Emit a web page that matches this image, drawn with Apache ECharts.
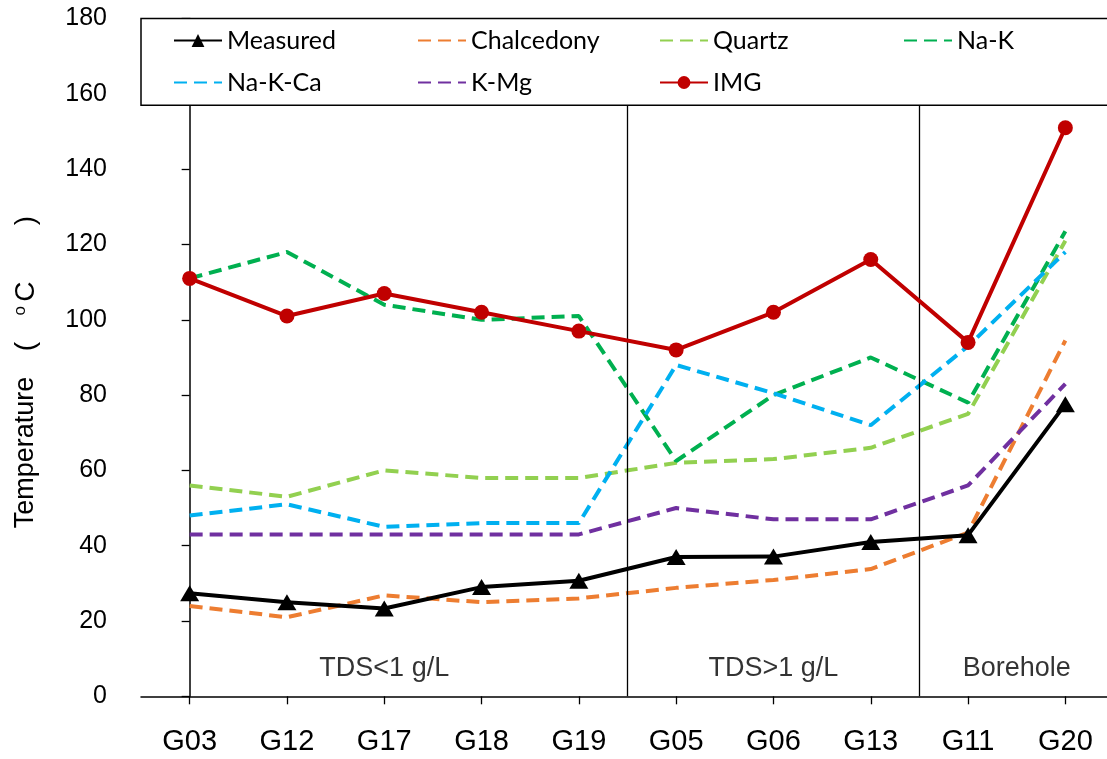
<!DOCTYPE html>
<html>
<head>
<meta charset="utf-8">
<script src="https://cdn.jsdelivr.net/npm/echarts@6/dist/echarts.min.js"></script>
<style>
html,body{margin:0;padding:0;background:#fff;}
#chart{width:1107px;height:759px;}
</style>
</head>
<body>
<div id="chart"></div>
<script>
const categories = ['G03','G12','G17','G18','G19','G05','G06','G13','G11','G20'];
const seriesNames = ['Measured','Chalcedony','Quartz','Na-K','Na-K-Ca','K-Mg','IMG'];
const measured   = [27.4, 25, 23.3, 29, 30.7, 37, 37.1, 41, 42.8, 77.6];
const chalcedony = [24, 21, 26.8, 25, 26, 28.8, 30.9, 33.8, 43.5, 94.5];
const quartz     = [56, 53, 60, 58, 58, 62, 63, 66, 75, 121];
const naK        = [111, 118, 104, 100, 101, 62.5, 80, 90, 78, 123.5];
const naKCa      = [48, 51, 45, 46, 46, 88, 80.5, 72, 93, 118];
const kMg        = [43, 43, 43, 43, 43, 50, 47, 47, 56, 83];
const img        = [111, 101, 107, 102, 97, 92, 102, 116, 94, 151];
const yTicks = [0, 20, 40, 60, 80, 100, 120, 140, 160, 180];
const regionLabels = ['TDS<1 g/L', 'TDS>1 g/L', 'Borehole'];
const regionCenters = [2, 6, 8.5];
const separators = [4.5, 7.5];

const chart = echarts.init(document.getElementById('chart'), null, {renderer: 'canvas'});
const FONT = 'Liberation Sans, Arial, sans-serif';
const LEGFONT = 'Lato, sans-serif';
const colors = {
  'Measured': '#000000', 'Chalcedony': '#ED7D31', 'Quartz': '#92D050',
  'Na-K': '#00B050', 'Na-K-Ca': '#00B0F0', 'K-Mg': '#7030A0', 'IMG': '#C00000'
};
const values = {
  'Measured': measured, 'Chalcedony': chalcedony, 'Quartz': quartz,
  'Na-K': naK, 'Na-K-Ca': naKCa, 'K-Mg': kMg, 'IMG': img
};
const DASH = [13, 7];

const series = seriesNames.map(function (name) {
  const s = {
    name: name, type: 'line', data: values[name],
    xAxisIndex: 0, yAxisIndex: 0,
    color: colors[name],
    lineStyle: {color: colors[name], width: 4},
    itemStyle: {color: colors[name]},
    animation: false, z: 2
  };
  if (name === 'Measured') {
    s.symbol = 'triangle'; s.symbolSize = [19, 16]; s.z = 4;
  } else if (name === 'IMG') {
    s.symbol = 'circle'; s.symbolSize = 15; s.z = 5;
  } else {
    s.symbol = 'none';
    s.lineStyle.type = DASH;
  }
  return s;
});

series.push({
  name: '_regions', type: 'scatter', xAxisIndex: 1, yAxisIndex: 0,
  data: regionCenters.map(function (c, i) { return {value: [c, 7.3], name: regionLabels[i]}; }),
  symbolSize: 1, itemStyle: {color: 'rgba(0,0,0,0)'},
  label: {show: true, position: 'inside', formatter: '{b}', fontSize: 27, color: '#000', fontFamily: FONT},
  silent: true, animation: false,
  markLine: {
    silent: true, symbol: ['none', 'none'], animation: false,
    label: {show: false},
    lineStyle: {color: '#000', width: 1.3, type: 'solid'},
    data: separators.map(function (s) { return [{coord: [s, 0]}, {coord: [s, 157]}]; })
  }
});

const legendCols = [173, 417, 659, 903];
const legendRows = [28, 70];
const legends = seriesNames.map(function (name, i) {
  const plain = (name !== 'Measured' && name !== 'IMG');
  const lg = {
    data: [name], left: legendCols[i % 4], top: legendRows[Math.floor(i / 4)],
    orient: 'horizontal', padding: 0, itemWidth: 48, itemHeight: 16, itemGap: 0,
    textStyle: {fontSize: 25, color: '#000', fontFamily: LEGFONT},
    selectedMode: false, z: 10
  };
  if (plain) {
    lg.itemStyle = {color: 'rgba(0,0,0,0)', borderColor: 'rgba(0,0,0,0)', borderWidth: 0, opacity: 0};
  }
  return lg;
});

const option = {
  backgroundColor: '#fff',
  animation: false,
  grid: {left: 141, top: 18.6, width: 973, height: 677.7, containLabel: false, outerBoundsMode: 'none'},
  legend: legends,
  xAxis: [{
    type: 'category', data: categories, boundaryGap: true,
    axisLine: {show: true, lineStyle: {color: '#000', width: 1.5}},
    axisTick: {show: true, alignWithLabel: true, length: 8, lineStyle: {color: '#000', width: 1.3}},
    axisLabel: {fontSize: 29, color: '#000', margin: 31, fontFamily: FONT, interval: 0},
    splitLine: {show: false}
  }, {
    type: 'value', min: -0.5, max: 9.5, show: false
  }],
  yAxis: [{
    type: 'value', min: 0, max: 180, interval: 20,
    name: '{t|Temperature}{p|(}{s|o}{c|C}{g| }{q|)}{e| }',
    nameLocation: 'middle', nameGap: 101, nameRotate: 90,
    nameTextStyle: {fontSize: 27, color: '#000', fontFamily: FONT,
      rich: {
        t: {fontSize: 27, fontFamily: FONT, color: '#000'},
        p: {fontSize: 28, fontFamily: FONT, color: '#000', width: 60, align: 'center'},
        s: {fontSize: 17, fontFamily: FONT, color: '#000', width: 12, align: 'center', verticalAlign: 'top'},
        c: {fontSize: 28, fontFamily: FONT, color: '#000', width: 26, align: 'center'},
        g: {fontSize: 28, fontFamily: FONT, width: 46, align: 'center'},
        q: {fontSize: 28, fontFamily: FONT, color: '#000', width: 24, align: 'center'},
        e: {fontSize: 28, fontFamily: FONT, width: 22, align: 'center'}
      }},
    axisLine: {show: true, lineStyle: {color: '#000', width: 1.5}},
    axisTick: {show: true, length: 8, lineStyle: {color: '#000', width: 1.3}},
    axisLabel: {fontSize: 25, color: '#000', margin: 34, fontFamily: FONT,
      formatter: function (v) { return yTicks.indexOf(v) >= 0 ? String(v) : ''; }},
    splitLine: {show: false}
  }],
  graphic: [{
    type: 'rect', z: 3, silent: true,
    shape: {x: 141, y: 18.6, width: 990, height: 86.7},
    style: {fill: '#fff', stroke: '#000', lineWidth: 1.5}
  }],
  series: series
};
chart.setOption(option);
</script>
</body>
</html>
